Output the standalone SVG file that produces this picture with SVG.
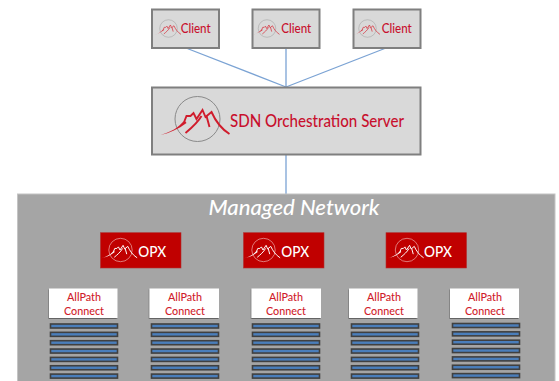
<svg xmlns="http://www.w3.org/2000/svg" xmlns:xlink="http://www.w3.org/1999/xlink" width="559" height="381" viewBox="0 0 559 381">
<style>
text{font-family:"Lato","Open Sans","Liberation Sans",sans-serif;font-weight:500}
.grey{fill:#d9d9d9;stroke:#7f7f7f;stroke-width:2}
.link{stroke:#7ba3d4;stroke-width:1.3;fill:none}
.red{fill:#c8102e}
.white{fill:#fff}
.opx{fill:#c00000;stroke:#b03030;stroke-width:.6}
.ac{fill:#fff;filter:url(#sh)}
.bar{fill:#4a7ebb;stroke:#404040;stroke-width:1.6}
.t{text-anchor:middle;font-size:12px;fill:#d01c2c}
.ridge{fill:none;stroke:currentColor;stroke-width:1.9;stroke-linejoin:miter}
</style>
<defs>
<filter id="sh" x="-10%" y="-10%" width="120%" height="125%"><feDropShadow dx="-0.5" dy="1" stdDeviation="0.6" flood-color="#555" flood-opacity=".8"/></filter>
<symbol id="logo" overflow="visible" viewBox="-40 -25 80 50" width="80" height="50">
<circle cx="0" cy="0" r="22.5" fill="none" stroke="#8a8a8a" stroke-width="1"/>
<path class="ridge" d="M-13 2L-11-3-7-3-4-6-1 0 5-9 8-2 14-7C18 2 24 10 32 15"/>
<path class="ridge" d="M-12 14C-6 9 0 4 4-3M9-3L12 8"/>
<path fill="currentColor" d="M-37 16C-27 13-19 9-13 1L-11 4C-19 10-28 14-37 16Z"/>
</symbol>
<symbol id="logow" overflow="visible" viewBox="-40 -25 80 50" width="80" height="50">
<circle cx="0" cy="0" r="22.5" fill="none" stroke="#f0c0c0" stroke-width="1.2"/>
<path class="ridge" d="M-13 2L-11-3-7-3-4-6-1 0 5-9 8-2 14-7C18 2 24 10 32 15"/>
<path class="ridge" d="M-12 14C-6 9 0 4 4-3M9-3L12 8"/>
<path fill="currentColor" d="M-37 16C-27 13-19 9-13 1L-11 4C-19 10-28 14-37 16Z"/>
</symbol>
<g id="bars">
<rect class="bar" x="0" y="0" width="67" height="4"/>
<rect class="bar" x="0" y="8.35" width="67" height="4"/>
<rect class="bar" x="0" y="16.7" width="67" height="4"/>
<rect class="bar" x="0" y="25.05" width="67" height="4"/>
<rect class="bar" x="0" y="33.4" width="67" height="4"/>
<rect class="bar" x="0" y="41.75" width="67" height="4"/>
<rect class="bar" x="0" y="50.1" width="67" height="4"/>
</g>
</defs>
<rect width="559" height="381" fill="#fff"/>
<g id="connectors">
<line class="link" x1="186" y1="48" x2="286" y2="87"/>
<line class="link" x1="286" y1="48" x2="286" y2="87"/>
<line class="link" x1="386" y1="48" x2="286" y2="87"/>
<line class="link" x1="286" y1="155" x2="286" y2="194"/>
</g>
<g id="client1"><rect class="grey" x="152" y="9.500" width="67" height="38.500"/><g transform="translate(168.500 28.500) scale(.39)" style="color:#d8303c"><use xlink:href="#logo" x="-40" y="-25"/></g><text x="195.700" y="33" text-anchor="middle" font-size="12.500" class="red" textLength="30" lengthAdjust="spacingAndGlyphs">Client</text></g>
<g id="client2"><rect class="grey" x="252.500" y="9.500" width="67" height="38.500"/><g transform="translate(267 28.500) scale(.39)" style="color:#d8303c"><use xlink:href="#logo" x="-40" y="-25"/></g><text x="296.300" y="33" text-anchor="middle" font-size="12.500" class="red" textLength="30" lengthAdjust="spacingAndGlyphs">Client</text></g>
<g id="client3"><rect class="grey" x="353.500" y="9.500" width="67" height="38.500"/><g transform="translate(367.500 28.500) scale(.39)" style="color:#d8303c"><use xlink:href="#logo" x="-40" y="-25"/></g><text x="396.800" y="33" text-anchor="middle" font-size="12.500" class="red" textLength="30" lengthAdjust="spacingAndGlyphs">Client</text></g>
<g id="server"><rect class="grey" x="152" y="87.500" width="268.500" height="67"/><g transform="translate(197.500 119)" style="color:#d01c2c"><use xlink:href="#logo" x="-40" y="-25"/></g><text x="317" y="127" text-anchor="middle" font-size="17" class="red" textLength="174" lengthAdjust="spacingAndGlyphs">SDN Orchestration Server</text></g>
<g id="managed-network"><rect x="17.500" y="194" width="537.500" height="190" fill="#a5a5a5" stroke="#c4c4c4" stroke-width="1"/><text x="294" y="214.500" text-anchor="middle" font-size="20.500" font-style="italic" fill="#fff" textLength="171" lengthAdjust="spacingAndGlyphs">Managed Network</text></g>
<g id="opx1"><rect class="opx" x="100.500" y="232.700" width="80.500" height="35.300"/><g transform="translate(120.500 250) scale(.52)" style="color:#fff"><use xlink:href="#logow" x="-40" y="-25"/></g><text x="152.300" y="256.500" text-anchor="middle" font-size="15.500" class="white" textLength="28" lengthAdjust="spacingAndGlyphs">OPX</text></g>
<g id="opx2"><rect class="opx" x="243.500" y="232.700" width="80.500" height="35.300"/><g transform="translate(263.500 250) scale(.52)" style="color:#fff"><use xlink:href="#logow" x="-40" y="-25"/></g><text x="295.300" y="256.500" text-anchor="middle" font-size="15.500" class="white" textLength="28" lengthAdjust="spacingAndGlyphs">OPX</text></g>
<g id="opx3"><rect class="opx" x="386" y="232.700" width="80.500" height="35.300"/><g transform="translate(407 250) scale(.52)" style="color:#fff"><use xlink:href="#logow" x="-40" y="-25"/></g><text x="438" y="256.500" text-anchor="middle" font-size="15.500" class="white" textLength="28" lengthAdjust="spacingAndGlyphs">OPX</text></g>
<g id="allpath1"><rect class="ac" x="49" y="288.500" width="68.500" height="29.500"/><text class="t" x="84" y="301" textLength="34" lengthAdjust="spacingAndGlyphs">AllPath</text><text class="t" x="84" y="315" textLength="40" lengthAdjust="spacingAndGlyphs">Connect</text></g>
<g id="allpath2"><rect class="ac" x="149.500" y="288.500" width="69.500" height="29.500"/><text class="t" x="185" y="301" textLength="34" lengthAdjust="spacingAndGlyphs">AllPath</text><text class="t" x="185" y="315" textLength="40" lengthAdjust="spacingAndGlyphs">Connect</text></g>
<g id="allpath3"><rect class="ac" x="251.500" y="288.500" width="69.500" height="29.500"/><text class="t" x="286" y="301" textLength="34" lengthAdjust="spacingAndGlyphs">AllPath</text><text class="t" x="286" y="315" textLength="40" lengthAdjust="spacingAndGlyphs">Connect</text></g>
<g id="allpath4"><rect class="ac" x="349" y="288.500" width="68.500" height="29.500"/><text class="t" x="384" y="301" textLength="34" lengthAdjust="spacingAndGlyphs">AllPath</text><text class="t" x="384" y="315" textLength="40" lengthAdjust="spacingAndGlyphs">Connect</text></g>
<g id="allpath5"><rect class="ac" x="450" y="288.500" width="69" height="29.500"/><text class="t" x="485" y="301" textLength="34" lengthAdjust="spacingAndGlyphs">AllPath</text><text class="t" x="485" y="315" textLength="40" lengthAdjust="spacingAndGlyphs">Connect</text></g>
<g id="servers1"><use xlink:href="#bars" x="50.500" y="324"/></g>
<g id="servers2"><use xlink:href="#bars" x="151.500" y="324"/></g>
<g id="servers3"><use xlink:href="#bars" x="252.500" y="324"/></g>
<g id="servers4"><use xlink:href="#bars" x="351.500" y="324"/></g>
<g id="servers5"><use xlink:href="#bars" x="452.500" y="323.500"/></g>
</svg>
